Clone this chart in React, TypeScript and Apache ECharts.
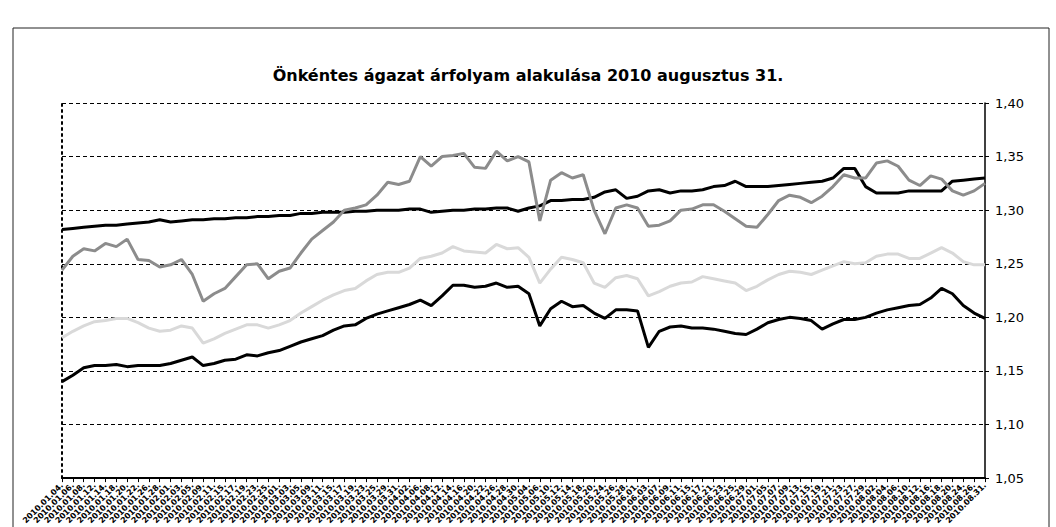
import React, { useEffect, useRef } from "react";
import * as echarts from "echarts";

const TITLE = "Önkéntes ágazat árfolyam alakulása 2010 augusztus 31.";

const categories: string[] = [
  "2010.01.04.", "2010.01.06.", "2010.01.08.", "2010.01.12.", "2010.01.14.", "2010.01.18.", "2010.01.20.", "2010.01.22.", "2010.01.26.", "2010.01.28.",
  "2010.02.01.", "2010.02.03.", "2010.02.05.", "2010.02.09.", "2010.02.11.", "2010.02.15.", "2010.02.17.", "2010.02.19.", "2010.02.23.", "2010.02.25.",
  "2010.03.01.", "2010.03.03.", "2010.03.05.", "2010.03.09.", "2010.03.11.", "2010.03.15.", "2010.03.17.", "2010.03.19.", "2010.03.23.", "2010.03.25.", "2010.03.29.", "2010.03.31.",
  "2010.04.02.", "2010.04.06.", "2010.04.08.", "2010.04.12.", "2010.04.14.", "2010.04.16.", "2010.04.20.", "2010.04.22.", "2010.04.26.", "2010.04.28.", "2010.04.30.",
  "2010.05.04.", "2010.05.06.", "2010.05.10.", "2010.05.12.", "2010.05.14.", "2010.05.18.", "2010.05.20.", "2010.05.24.", "2010.05.26.", "2010.05.28.",
  "2010.06.01.", "2010.06.03.", "2010.06.07.", "2010.06.09.", "2010.06.11.", "2010.06.15.", "2010.06.17.", "2010.06.21.", "2010.06.23.", "2010.06.25.", "2010.06.29.",
  "2010.07.01.", "2010.07.05.", "2010.07.07.", "2010.07.09.", "2010.07.13.", "2010.07.15.", "2010.07.19.", "2010.07.21.", "2010.07.23.", "2010.07.27.", "2010.07.29.",
  "2010.08.02.", "2010.08.04.", "2010.08.06.", "2010.08.10.", "2010.08.12.", "2010.08.16.", "2010.08.18.", "2010.08.20.", "2010.08.24.", "2010.08.26.", "2010.08.31.",
];

const seriesUpperBlack: number[] = [
  1.282, 1.283, 1.284, 1.285, 1.286, 1.286, 1.287, 1.288, 1.289, 1.291,
  1.289, 1.290, 1.291, 1.291, 1.292, 1.292, 1.293, 1.293, 1.294, 1.294,
  1.295, 1.295, 1.297, 1.297, 1.298, 1.298, 1.298, 1.299, 1.299, 1.300,
  1.300, 1.300, 1.301, 1.301, 1.298, 1.299, 1.300, 1.300, 1.301, 1.301,
  1.302, 1.302, 1.299, 1.302, 1.304, 1.309, 1.309, 1.310, 1.310, 1.312,
  1.317, 1.319, 1.311, 1.313, 1.318, 1.319, 1.316, 1.318, 1.318, 1.319,
  1.322, 1.323, 1.327, 1.322, 1.322, 1.322, 1.323, 1.324, 1.325, 1.326,
  1.327, 1.330, 1.339, 1.339, 1.322, 1.316, 1.316, 1.316, 1.318, 1.318,
  1.318, 1.318, 1.327, 1.328, 1.329, 1.330,
];

const seriesDarkGray: number[] = [
  1.244, 1.257, 1.264, 1.262, 1.269, 1.266, 1.273, 1.254, 1.253, 1.247,
  1.249, 1.254, 1.240, 1.215, 1.222, 1.227, 1.238, 1.249, 1.250, 1.236,
  1.243, 1.246, 1.260, 1.273, 1.281, 1.289, 1.300, 1.302, 1.305, 1.314,
  1.326, 1.324, 1.327, 1.350, 1.341, 1.350, 1.351, 1.353, 1.340, 1.339,
  1.355, 1.346, 1.350, 1.345, 1.290, 1.328, 1.335, 1.330, 1.333, 1.300,
  1.278, 1.302, 1.305, 1.302, 1.285, 1.286, 1.290, 1.300, 1.301, 1.305,
  1.305, 1.299, 1.292, 1.285, 1.284, 1.296, 1.309, 1.314, 1.312, 1.307,
  1.313, 1.322, 1.333, 1.330, 1.330, 1.344, 1.346, 1.341, 1.328, 1.323,
  1.332, 1.329, 1.318, 1.314, 1.318, 1.325,
];

const seriesLightGray: number[] = [
  1.181, 1.187, 1.192, 1.196, 1.197, 1.199, 1.199, 1.195, 1.190, 1.187,
  1.188, 1.192, 1.190, 1.176, 1.180, 1.185, 1.189, 1.193, 1.193, 1.190,
  1.193, 1.197, 1.204, 1.210, 1.216, 1.221, 1.225, 1.227, 1.234, 1.240,
  1.242, 1.242, 1.246, 1.255, 1.257, 1.260, 1.266, 1.262, 1.261, 1.260,
  1.268, 1.264, 1.265, 1.256, 1.232, 1.245, 1.256, 1.254, 1.251, 1.232,
  1.228, 1.237, 1.239, 1.236, 1.220, 1.224, 1.229, 1.232, 1.233, 1.238,
  1.236, 1.234, 1.232, 1.225, 1.229, 1.235, 1.240, 1.243, 1.242, 1.240,
  1.244, 1.248, 1.252, 1.250, 1.251, 1.257, 1.259, 1.259, 1.255, 1.255,
  1.260, 1.265, 1.260, 1.252, 1.249, 1.249,
];

const seriesLowerBlack: number[] = [
  1.140, 1.146, 1.153, 1.155, 1.155, 1.156, 1.154, 1.155, 1.155, 1.155,
  1.157, 1.160, 1.163, 1.155, 1.157, 1.160, 1.161, 1.165, 1.164, 1.167,
  1.169, 1.173, 1.177, 1.180, 1.183, 1.188, 1.192, 1.193, 1.199, 1.203,
  1.206, 1.209, 1.212, 1.216, 1.211, 1.220, 1.230, 1.230, 1.228, 1.229,
  1.232, 1.228, 1.229, 1.222, 1.192, 1.208, 1.215, 1.210, 1.211, 1.204,
  1.199, 1.207, 1.207, 1.206, 1.172, 1.187, 1.191, 1.192, 1.190, 1.190,
  1.189, 1.187, 1.185, 1.184, 1.189, 1.195, 1.198, 1.200, 1.199, 1.197,
  1.189, 1.194, 1.198, 1.198, 1.200, 1.204, 1.207, 1.209, 1.211, 1.212,
  1.218, 1.227, 1.222, 1.211, 1.204, 1.199,
];

const Y_MIN = 1.05;
const Y_MAX = 1.4;
const Y_STEP = 0.05;

export default function App() {
  const ref = useRef<HTMLDivElement>(null);

  useEffect(() => {
    if (!ref.current) return;
    const chart = echarts.init(ref.current, undefined, { renderer: "svg" });
    const mkLine = (name: string, data: number[], color: string) => ({
      name,
      type: "line",
      data,
      xAxisIndex: 0,
      yAxisIndex: 0,
      showSymbol: false,
      symbol: "none",
      lineStyle: { color, width: 3 },
      itemStyle: { color },
    });
    chart.setOption({
      animation: false,
      backgroundColor: "#ffffff",
      title: {
        text: TITLE,
        left: 523,
        top: 62,
        textAlign: "center",
        textStyle: {
          fontFamily: "DejaVu Sans",
          fontSize: 16,
          fontWeight: "bold",
          color: "#000",
        },
      },
      graphic: [
        {
          type: "rect",
          shape: { x: 13, y: 28, width: 1036, height: 520 },
          style: { fill: "none", stroke: "#222", lineWidth: 1 },
          silent: true,
          z: -1,
        },
      ],
      grid: { left: 62, right: 71, top: 103, bottom: 45, containLabel: false },
      xAxis: [
        {
          type: "category",
          data: categories,
          boundaryGap: false,
          position: "bottom",
          axisLine: { show: true, onZero: false, lineStyle: { color: "#000", width: 2 } },
          axisTick: { show: true, interval: 0, length: 4, lineStyle: { color: "#000", width: 1 } },
          axisLabel: {
            interval: 0,
            rotate: 45,
            fontSize: 8,
            fontWeight: "bold",
            fontFamily: "DejaVu Sans",
            color: "#000",
            margin: 6,
          },
          splitLine: { show: false },
        },
      ],
      yAxis: [
        {
          type: "value",
          position: "right",
          min: Y_MIN,
          max: Y_MAX,
          interval: Y_STEP,
          axisLine: { show: true, lineStyle: { color: "#000", width: 1.5 } },
          axisTick: { show: true, length: 4, lineStyle: { color: "#000" } },
          axisLabel: {
            fontFamily: "DejaVu Sans",
            fontSize: 13,
            color: "#000",
            margin: 10,
            formatter: (v: number) => v.toFixed(2).replace(".", ","),
          },
          splitLine: { show: true, lineStyle: { color: "#000", width: 1, type: [4, 3] } },
        },
        {
          type: "value",
          position: "left",
          min: Y_MIN,
          max: Y_MAX,
          interval: Y_STEP,
          axisLine: { show: true, lineStyle: { color: "#000", width: 2, type: [2, 4] } },
          axisTick: { show: false },
          axisLabel: { show: false },
          splitLine: { show: false },
        },
      ],
      series: [
        mkLine("Felső fekete", seriesUpperBlack, "#000000"),
        mkLine("Sötétszürke", seriesDarkGray, "#8c8c8c"),
        mkLine("Világosszürke", seriesLightGray, "#d9d9d9"),
        mkLine("Alsó fekete", seriesLowerBlack, "#000000"),
      ],
    });
    return () => chart.dispose();
  }, []);

  return (
    <div
      ref={ref}
      style={{ position: "fixed", left: 0, top: 0, width: 1056, height: 527, background: "#fff" }}
    />
  );
}
